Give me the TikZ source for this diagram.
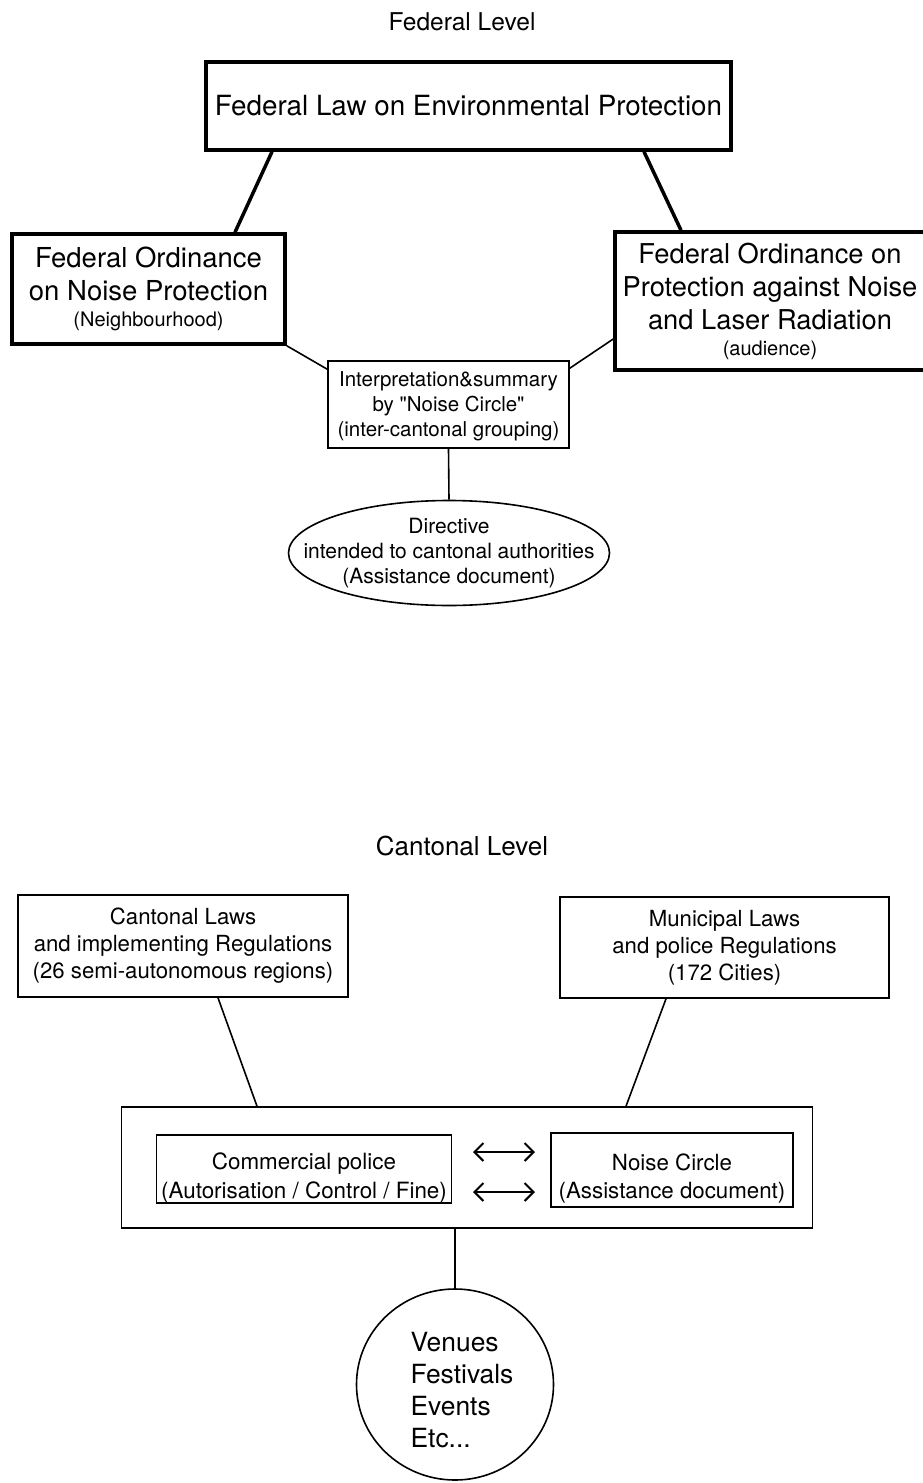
\documentclass[tikz,border=0pt]{standalone}
\usepackage{fontspec}
\setmainfont{TeX Gyre Heros}
\usetikzlibrary{shapes.geometric,arrows.meta}
\begin{document}
\begin{tikzpicture}[x=1pt,y=-1pt,
  fedbox/.style={draw,line width=3.5pt,rectangle,inner sep=0pt,align=center},
  thinbox/.style={draw,line width=1.6pt,rectangle,inner sep=0pt,align=center},
  thinell/.style={draw,line width=1.6pt,ellipse,inner sep=0pt},
  thickline/.style={line width=3.5pt},
  thinline/.style={line width=1.6pt},
  twoway/.style={line width=2pt,{Straight Barb[length=9pt,width=18pt]}-{Straight Barb[length=9pt,width=18pt]}},
  levellabel/.style={inner sep=0pt}
]
\clip (0,0) rectangle (923,1483);
\fill[white] (0,0) rectangle (923,1483);

% ---------- Federal level ----------
\node[levellabel,font=\fontsize{24.5}{28}\selectfont] (fedlabel) at (462,22) {Federal Level};

\node[fedbox,minimum width=525pt,minimum height=88pt,font=\fontsize{27.8}{32}\selectfont]
  (law) at (468.5,106) {Federal Law on Environmental Protection};

\node[fedbox,minimum width=273pt,minimum height=110pt,font=\fontsize{27.5}{33}\selectfont]
  (ordl) at (148.5,289) {Federal Ordinance\\ on Noise Protection\\[-7pt] \fontsize{20}{24}\selectfont (Neighbourhood)};

\node[fedbox,minimum width=310pt,minimum height=138pt,font=\fontsize{27.3}{33}\selectfont]
  (ordr) at (770,301) {Federal Ordinance on\\ Protection against Noise\\ and Laser Radiation\\[-7pt] \fontsize{20}{24}\selectfont (audience)};

\node[thinbox,minimum width=241pt,minimum height=87pt,font=\fontsize{20.5}{25}\selectfont]
  (interp) at (448.5,404.5) {\rule{0pt}{19pt}Interpretation\&summary\\ by \textquotedbl Noise Circle\textquotedbl\\ (inter-cantonal grouping)};

\node[thinell,minimum width=320pt,minimum height=105pt,inner xsep=-32pt,align=center,font=\fontsize{21}{25}\selectfont]
  (directive) at (449,553) {Directive\\ intended to cantonal authorities\\ (Assistance document)};

\draw[thickline] ([xshift=-196.5pt]law.south) -- ([xshift=86.5pt]ordl.north);
\draw[thickline] ([xshift=175.5pt]law.south) -- ([xshift=-89pt]ordr.north);
\draw[thinline] (ordl.south east) -- ([yshift=-9pt]interp.north west);
\draw[thinline] ([yshift=-8pt]interp.north east) -- ([yshift=-38pt]ordr.west);
\draw[thinline] (interp.south) -- (directive.north);

% ---------- Cantonal level ----------
\node[levellabel,font=\fontsize{26}{30}\selectfont] (cantlabel) at (462,846) {Cantonal Level};

\node[thinbox,minimum width=330pt,minimum height=102pt,font=\fontsize{22.2}{27}\selectfont]
  (cantlaws) at (183,946) {Cantonal Laws\\ and implementing Regulations\\ (26 semi-autonomous regions)};

\node[thinbox,minimum width=329pt,minimum height=101pt,font=\fontsize{22.2}{27}\selectfont]
  (munlaws) at (724.5,947.5) {Municipal Laws\\ and police Regulations\\ (172 Cities)};

\node[thinbox,minimum width=691pt,minimum height=121pt] (group) at (467,1167.5) {};

\node[thinbox,minimum width=295pt,minimum height=68pt,font=\fontsize{22.4}{28.5}\selectfont]
  (police) at (304,1169) {\rule{0pt}{35pt}Commercial police\\ (Autorisation / Control / Fine)};

\node[thinbox,minimum width=242pt,minimum height=74pt,font=\fontsize{22.3}{28.5}\selectfont]
  (circle) at (672,1170) {\rule{0pt}{34pt}Noise Circle\\ (Assistance document)};

\coordinate (a1l) at (473,1152);
\coordinate (a1r) at (535,1152);
\coordinate (a2l) at (473,1192);
\coordinate (a2r) at (535,1192);
\draw[twoway] (a1l) -- (a1r);
\draw[twoway] (a2l) -- (a2r);

\node[thinell,minimum width=197pt,minimum height=191pt,align=left,font=\fontsize{26.4}{32}\selectfont]
  (venues) at (455,1384.5) {\hspace*{14pt}\rule{0pt}{31pt}Venues\\ \hspace*{14pt}Festivals\\ \hspace*{14pt}Events\\ \hspace*{14pt}Etc...};

\draw[thinline] ([xshift=35pt]cantlaws.south) -- ([xshift=-210pt]group.north);
\draw[thinline] ([xshift=-58.5pt]munlaws.south) -- ([xshift=159pt]group.north);
\draw[thinline] (venues.north) -- (venues.north |- group.south);
\end{tikzpicture}
\end{document}
